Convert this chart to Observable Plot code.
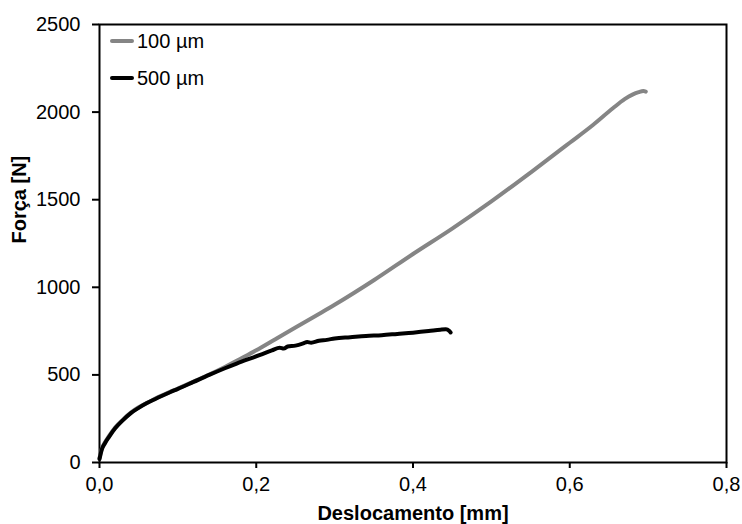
<!DOCTYPE html>
<html>
<head>
<meta charset="utf-8">
<script src="https://cdn.jsdelivr.net/npm/d3@7"></script>
<script src="https://cdn.jsdelivr.net/npm/@observablehq/plot@0.6"></script>
<style>
  html, body { margin: 0; padding: 0; background: #fff; }
  #wrap { position: relative; width: 742px; height: 524px; font-family: "Liberation Sans", Arial, sans-serif; }
  .leg { position: absolute; left: 110px; display: flex; align-items: center; font-size: 20px; color: #000; }
  .sw { width: 24px; height: 4px; border-radius: 2px; margin-right: 3px; }
</style>
</head>
<body>
<div id="wrap"></div>
<script>
// Series names and colours
const seriesNames = ["100 µm", "500 µm"];
const seriesColors = ["#858585", "#000000"];

// 100 µm: displacement [mm] and force [N]
const x100 = [0, 0.003, 0.007, 0.012, 0.02, 0.03, 0.04, 0.05, 0.06, 0.07, 0.08, 0.09, 0.1, 0.12, 0.14, 0.16, 0.18, 0.2, 0.225, 0.25, 0.275, 0.3, 0.35, 0.4, 0.45, 0.5, 0.55, 0.6, 0.63, 0.655, 0.67, 0.68, 0.688, 0.694, 0.697];
const y100 = [25, 80, 115, 150, 200, 245, 285, 315, 340, 362, 383, 403, 422, 462, 502, 545, 592, 640, 705, 770, 835, 900, 1040, 1190, 1335, 1490, 1655, 1825, 1928, 2022, 2074, 2100, 2114, 2120, 2117];

// 500 µm: displacement [mm] and force [N]
const x500 = [0, 0.003, 0.007, 0.012, 0.02, 0.03, 0.04, 0.05, 0.06, 0.07, 0.08, 0.09, 0.1, 0.12, 0.14, 0.16, 0.175, 0.19, 0.205, 0.22, 0.23, 0.235, 0.24, 0.25, 0.26, 0.265, 0.27, 0.28, 0.29, 0.3, 0.32, 0.34, 0.36, 0.38, 0.4, 0.42, 0.435, 0.442, 0.446, 0.448];
const y500 = [20, 75, 110, 145, 195, 242, 282, 312, 338, 360, 381, 401, 420, 460, 500, 538, 565, 590, 614, 640, 655, 650, 662, 667, 680, 688, 684, 695, 700, 708, 715, 722, 727, 734, 741, 750, 758, 760, 752, 742];

// Axis ticks
const xTicks = [0, 0.2, 0.4, 0.6, 0.8];
const yTicks = [0, 500, 1000, 1500, 2000, 2500];
const xTitle = "Deslocamento [mm]";
const yTitle = "Força [N]";

const d100 = x100.map((x, i) => ({x, y: y100[i]}));
const d500 = x500.map((x, i) => ({x, y: y500[i]}));

const chart = Plot.plot({
  width: 742,
  height: 524,
  marginLeft: 99,
  marginRight: 16,
  marginTop: 24,
  marginBottom: 62,
  x: {domain: [0, 0.8]},
  y: {domain: [0, 2500]},
  style: {fontFamily: "'Liberation Sans', Arial, sans-serif", fontSize: "20px", color: "#000", background: "#fff"},
  marks: [
    Plot.axisX({ticks: xTicks, tickFormat: d => d.toFixed(1).replace(".", ","), tickSize: 6, tickPadding: 8, label: null, strokeWidth: 2, fontSize: 20}),
    Plot.axisY({ticks: yTicks, tickFormat: d => String(d), tickSize: 7, tickPadding: 12, label: null, strokeWidth: 2, fontSize: 20}),
    Plot.frame({stroke: "#000", strokeWidth: 2}),
    Plot.line(d100, {x: "x", y: "y", stroke: seriesColors[0], strokeWidth: 4, curve: "monotone-x", strokeLinecap: "round"}),
    Plot.line(d500, {x: "x", y: "y", stroke: seriesColors[1], strokeWidth: 4, curve: "monotone-x", strokeLinecap: "round"}),
    Plot.text([xTitle], {text: d => d, frameAnchor: "bottom", dy: 57, fontWeight: "bold", fontSize: 20, lineAnchor: "bottom"}),
    Plot.text([yTitle], {text: d => d, frameAnchor: "left", dx: -80, rotate: -90, fontWeight: "bold", fontSize: 20})
  ]
});

const wrap = document.getElementById("wrap");
wrap.appendChild(chart);
const legTops = [41, 78];
seriesNames.forEach((name, i) => {
  const el = document.createElement("div");
  el.className = "leg";
  el.style.top = (legTops[i] - 12) + "px";
  el.style.height = "24px";
  const sw = document.createElement("div");
  sw.className = "sw";
  sw.style.background = seriesColors[i];
  const tx = document.createElement("span");
  tx.textContent = name;
  el.appendChild(sw);
  el.appendChild(tx);
  wrap.appendChild(el);
});
</script>
</body>
</html>
